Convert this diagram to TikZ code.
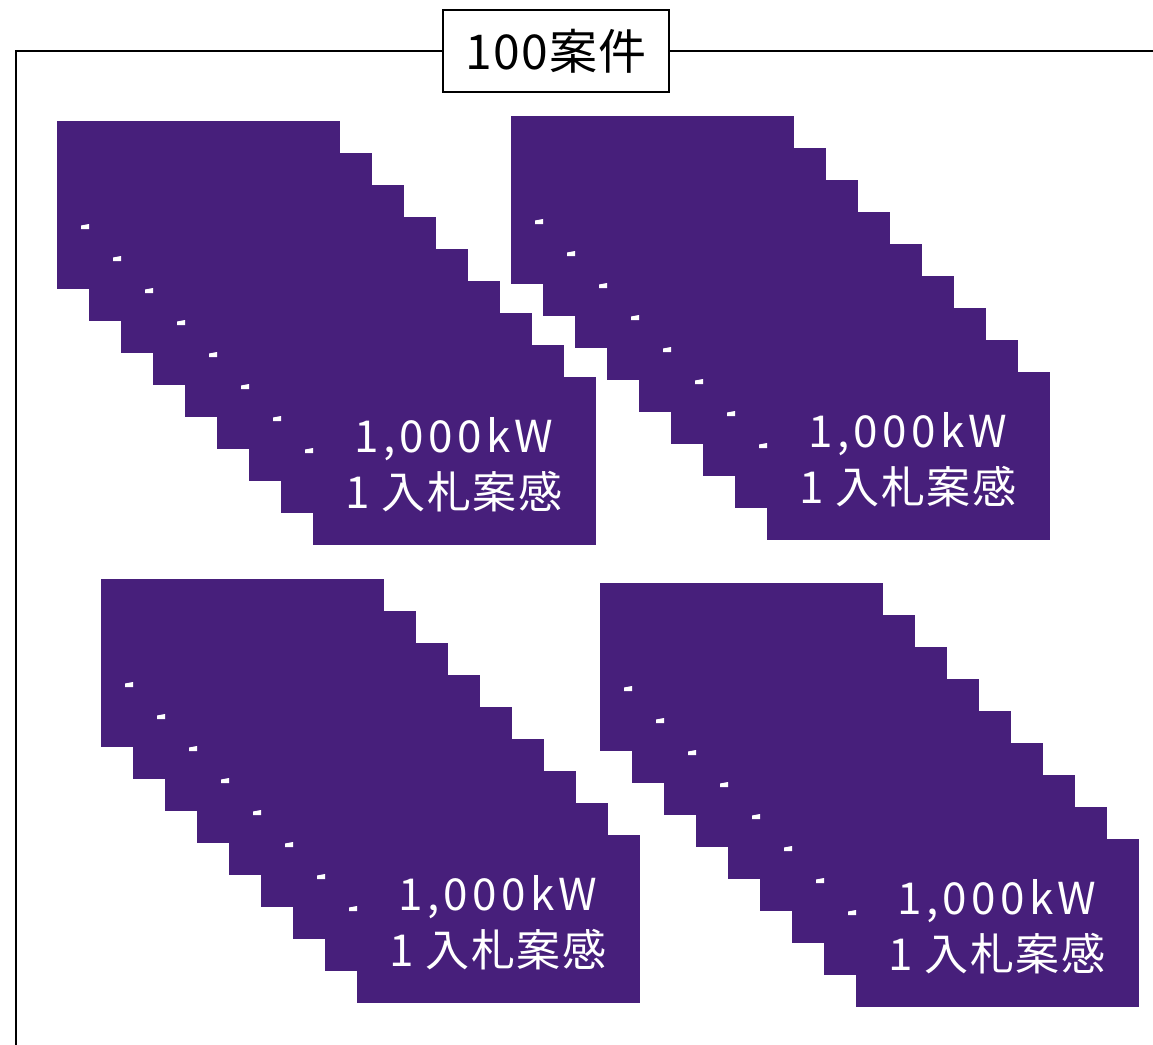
\documentclass[tikz,border=0pt]{standalone}
\usepackage{fontspec}
\setmainfont{Noto Sans CJK JP}
\newfontfamily\wideA[LetterSpace=10]{Noto Sans CJK JP}
\newfontfamily\wideB[LetterSpace=4]{Noto Sans CJK JP}
\newfontfamily\wideC[LetterSpace=3]{Noto Sans CJK JP}
\definecolor{cardpurple}{RGB}{71,31,123}
\begin{document}
\begin{tikzpicture}[x=0.75pt,y=-0.75pt,
  card/.style={fill=cardpurple, draw=none, anchor=north west,
    minimum width=212.25pt, minimum height=126pt, inner sep=0pt, outer sep=0pt},
  cardtext/.style={text=white, align=center, inner sep=0pt,
    font=\fontsize{33}{42}\selectfont},
  titlebox/.style={draw=black, line width=1.5pt, fill=white,
    minimum width=169.5pt, minimum height=61.5pt, inner sep=0pt,
    font=\fontsize{36}{40}\selectfont\wideC},
  frameline/.style={draw=black, line width=1.5pt},
  nick/.style={fill=white}
]
\useasboundingbox (0,0) rectangle (1153,1045);

% title and frame
\node[titlebox] (title) at (556,51) {100案件};
\coordinate (fcorner) at (16,51);
\coordinate (fbottom) at (16,1046);
\coordinate (fright) at (1154,51);
\draw[frameline] (title.west) -- (fcorner) -- (fbottom);
\draw[frameline] (title.east) -- (fright);

% four stacks of cards
\foreach \g/\ox/\oy in {1/57/121, 2/511/116, 3/101/579, 4/600/583}{
  \foreach \k in {0,...,8}{
    \node[card] (g\g-\k) at (\ox+32*\k, \oy+32*\k) {};
  }
  \foreach \k in {0,...,7}{
    \fill[nick] (\ox+32*\k+24, \oy+32*\k+104.5) -- (\ox+32*\k+32, \oy+32*\k+103)
      -- (\ox+32*\k+32, \oy+32*\k+108) -- (\ox+32*\k+24, \oy+32*\k+108) -- cycle;
  }
  \node[cardtext] (t\g) at (\ox+256+141, \oy+256+88) {{\wideA 1,000kW}\\{\wideB 1 入札案感}};
}
\end{tikzpicture}
\end{document}
